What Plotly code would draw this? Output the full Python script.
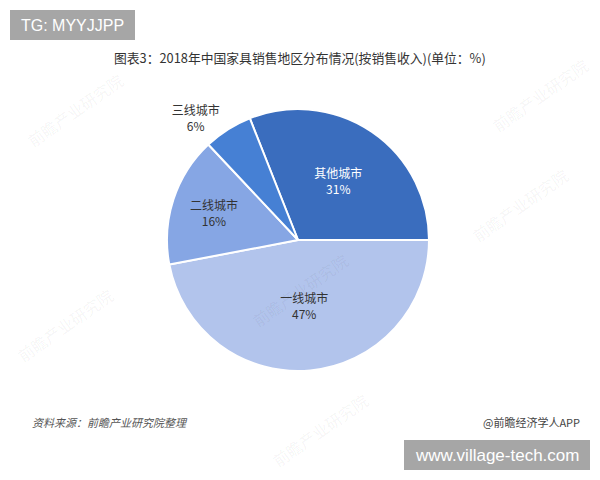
import plotly.graph_objects as go

categories = ["其他城市", "一线城市", "二线城市", "三线城市"]
values = [31, 47, 16, 6]
colors = ["#3a6dbe", "#b2c4ec", "#86a6e4", "#4680d4"]
text_colors = ["#ffffff", "#333333", "#333333", "#333333"]
positions = ["inside", "inside", "inside", "outside"]

title_text = "图表3：2018年中国家具销售地区分布情况(按销售收入)(单位：%)"
source_text = "资料来源：前瞻产业研究院整理"
brand_text = "@前瞻经济学人APP"

W, H = 600, 480
cx, cy, r = 298, 240, 131

fig = go.Figure(go.Pie(
    labels=categories,
    values=values,
    sort=False,
    direction="clockwise",
    rotation=-21.6,
    marker=dict(colors=colors, line=dict(color="white", width=2)),
    texttemplate="%{label}<br>%{value}%",
    textposition=positions,
    insidetextorientation="horizontal",
    textfont=dict(size=12, color=text_colors, family="Noto Sans CJK SC"),
    outsidetextfont=dict(size=12, color="#333333", family="Noto Sans CJK SC"),
    showlegend=False,
    hoverinfo="label+percent",
    automargin=False,
    domain=dict(x=[(cx - r) / W, (cx + r) / W], y=[1 - (cy + r) / H, 1 - (cy - r) / H]),
))

def txt(x, y, text, size, color, family="Noto Sans CJK SC", xanchor="center", angle=0):
    return dict(x=x / W, y=1 - y / H, xref="paper", yref="paper", text=text, showarrow=False,
                xanchor=xanchor, yanchor="middle", textangle=angle,
                font=dict(size=size, color=color, family=family))

ann = []
# faint watermarks
for (x, y) in [(75, 110), (540, 95), (65, 325), (520, 205), (300, 290), (320, 430)]:
    ann.append(txt(x, y, "前瞻产业研究院", 16, "rgba(0,0,0,0.05)", angle=-35))
ann += [
    txt(300, 57, title_text, 12.8, "#333333"),
    txt(30, 422, "<i>" + source_text + "</i>", 11, "#555555", xanchor="left"),
    txt(582, 422, brand_text, 11, "#444444", xanchor="right"),
    txt(72, 25, "TG: MYYJJPP", 16, "white", family="Liberation Sans"),
    txt(497, 455, "www.village-tech.com", 17, "white", family="Liberation Sans"),
]

shapes = [
    dict(type="rect", xref="paper", yref="paper", x0=10 / W, x1=135 / W, y0=1 - 40 / H, y1=1 - 10 / H,
         fillcolor="#a6a6a6", line=dict(width=0), layer="below"),
    dict(type="rect", xref="paper", yref="paper", x0=404 / W, x1=590 / W, y0=1 - 470 / H, y1=1 - 440 / H,
         fillcolor="#a6a6a6", line=dict(width=0), layer="below"),
]

fig.update_layout(
    width=W, height=H,
    margin=dict(l=0, r=0, t=0, b=0, autoexpand=False),
    paper_bgcolor="white", plot_bgcolor="white",
    annotations=ann, shapes=shapes,
)

fig.write_html("out.html", config={"displayModeBar": False},
               post_script="document.body.style.margin='0';document.body.style.overflow='hidden';")
